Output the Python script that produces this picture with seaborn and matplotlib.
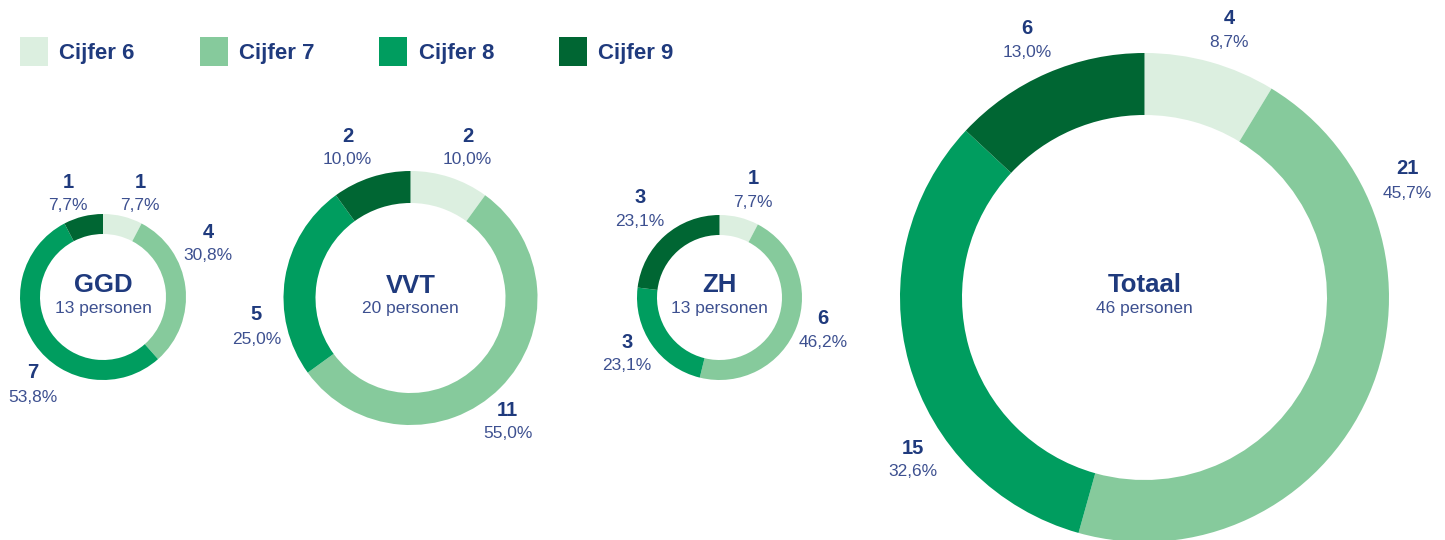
import matplotlib.pyplot as plt
import seaborn as sns
from matplotlib.patches import Patch

# data
cijfers = ['Cijfer 6', 'Cijfer 7', 'Cijfer 8', 'Cijfer 9']
groepen = ['GGD', 'VVT', 'ZH', 'Totaal']
ggd = [1, 4, 7, 1]
vvt = [2, 11, 5, 2]
zh = [1, 6, 3, 3]
totaal = [4, 21, 15, 6]
aantallen = [ggd, vvt, zh, totaal]

sns.set_theme(style='white')
plt.rcParams['font.family'] = ['Liberation Sans', 'DejaVu Sans']

kleuren = sns.color_palette(['#DCEFE0', '#86CA9C', '#009D5F', '#006633'])
navy = '#1F3A7D'
navy_licht = '#3D5090'

W, H = 1445, 540

# layout in pixels: centre (x, y from top), outer radius, ring width
layout = {
    'GGD': dict(c=(103, 297), r=83, w=20),
    'VVT': dict(c=(410.5, 298), r=127, w=32),
    'ZH': dict(c=(719.5, 297.5), r=82.5, w=20),
    'Totaal': dict(c=(1144.5, 297.5), r=244.5, w=62),
}
# label offsets (dx, dy) from centre in pixels, order Cijfer 6..9
label_pos = {
    'GGD': [(37, -115), (105, -65), (-70, 76), (-35, -115)],
    'VVT': [(57, -162), (97, 112), (-154, 17), (-63, -162)],
    'ZH': [(33.5, -119), (103.5, 21), (-92.5, 44.5), (-79.5, -100)],
    'Totaal': [(84.5, -279), (262.5, -128.5), (-231.5, 150.5), (-117.5, -269)],
}


def fmt_pct(v, tot):
    return f'{v / tot * 100:.1f}'.replace('.', ',') + '%'


def main():
    fig = plt.figure(figsize=(W / 100, H / 100), dpi=100)
    ax = fig.add_axes([0, 0, 1, 1])

    for groep, vals in zip(groepen, aantallen):
        lay = layout[groep]
        cx, cy = lay['c'][0], H - lay['c'][1]
        ax.pie(vals, colors=kleuren, startangle=90, counterclock=False,
               radius=lay['r'], center=(cx, cy),
               wedgeprops=dict(width=lay['w'], linewidth=0, edgecolor='none'))

        tot = sum(vals)
        ax.text(cx, cy + 12, groep, ha='center', va='center',
                fontsize=18.5, fontweight='bold', color=navy)
        ax.text(cx, cy - 11, f'{tot} personen', ha='center', va='center',
                fontsize=12.5, color=navy_licht)

        for v, (dx, dy) in zip(vals, label_pos[groep]):
            ax.text(cx + dx, cy - dy, str(v), ha='center', va='center',
                    fontsize=14.5, fontweight='bold', color=navy)
            ax.text(cx + dx, cy - dy - 24, fmt_pct(v, tot), ha='center',
                    va='center', fontsize=12.5, color=navy_licht)

    ax.set_xlim(0, W)
    ax.set_ylim(0, H)
    ax.set_aspect('auto')
    ax.axis('off')

    handles = [Patch(facecolor=k, edgecolor='none', label=c)
               for k, c in zip(kleuren, cijfers)]
    fig.legend(handles=handles, loc='upper left',
               bbox_to_anchor=(20 / W, 1 - 37 / H), ncol=4, frameon=False,
               prop=dict(size=16, weight='bold'), labelcolor=navy,
               handlelength=28 / 22.2, handleheight=1.62,
               handletextpad=0.5, columnspacing=2.93,
               borderpad=0, borderaxespad=0)

    fig.savefig('out.png', dpi=100, facecolor='white')
    plt.close(fig)


if __name__ == '__main__':
    main()
